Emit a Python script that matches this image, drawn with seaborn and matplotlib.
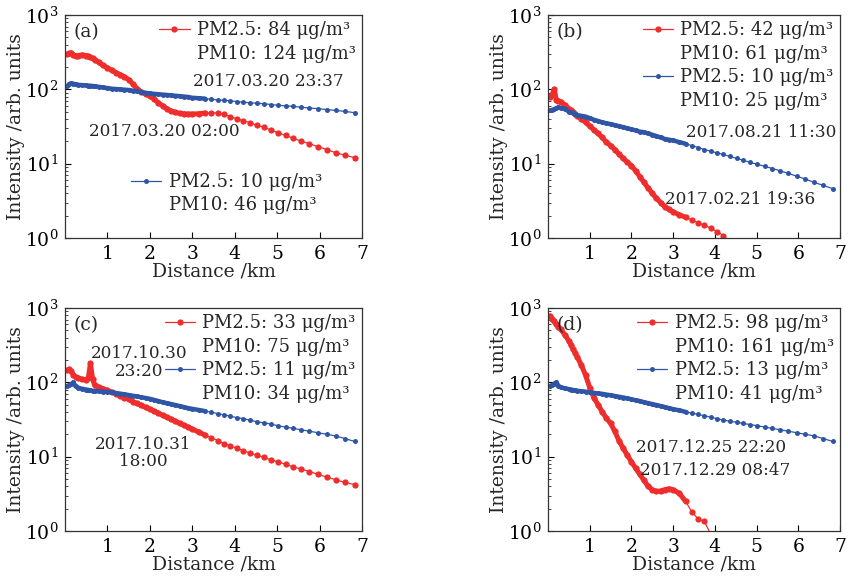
import numpy as np
import pandas as pd
import matplotlib
matplotlib.use("Agg")
import matplotlib.pyplot as plt
import seaborn as sns
from matplotlib.lines import Line2D
from matplotlib.ticker import LogLocator, NullFormatter

sns.set_theme(style="ticks")
plt.rcParams["font.family"] = ["DejaVu Serif"]
plt.rcParams["mathtext.fontset"] = "dejavuserif"

# shared distance grid (km)
dist = [0.05, 0.1, 0.15, 0.2, 0.25, 0.3, 0.4, 0.5, 0.55, 0.6, 0.65, 0.7, 0.8, 0.9, 1.0,
        1.1, 1.2, 1.3, 1.4, 1.5, 1.6, 1.7, 1.8, 1.9, 2.0, 2.1, 2.2, 2.3, 2.4, 2.5,
        2.6, 2.7, 2.8, 2.9, 3.0, 3.15, 3.3, 3.45, 3.6, 3.75, 3.9, 4.05, 4.2, 4.36,
        4.52, 4.68, 4.85, 5.02, 5.2, 5.38, 5.57, 5.76, 5.96, 6.17, 6.38, 6.6, 6.83]

nan = float("nan")

# (a)
a_red = [295, 305, 310, 290, 280, 285, 290, 285, 280, 270, 260, 250, 230, 210, 195,
         180, 168, 158, 148, 135, 118, 102, 92, 86, 81, 74, 66, 60, 55, 51,
         49, 47.5, 47, 46.5, 46.5, 47, 48, 48.5, 48, 46, 43, 40, 38, 35.5,
         33, 31, 28.5, 26, 24, 22, 20, 18.5, 17, 15.5, 14, 13, 12]
a_blue = [110, 118, 120, 119, 117, 115, 114, 113, 112, 112, 111, 110, 108, 106, 104,
          102, 101, 100, 99, 98, 96, 94, 92, 90, 88, 87, 86, 85, 84, 83,
          82, 81, 80, 79, 77, 76, 75, 73.5, 72, 71, 70, 68.5, 67, 66,
          65, 64, 62.5, 61, 60, 59, 57.5, 56, 55, 53.5, 52, 50.5, 48.5]
# (b)
b_red = [80, 85, 100, 72, 70, 68, 62, 55, 52, 50, 47, 44, 40, 36, 32,
         28.5, 25.5, 22.5, 19.5, 17.5, 15.5, 13.5, 11.8, 10.5, 9.4, 8.0, 6.7, 5.6, 4.7, 4.0,
         3.4, 3.0, 2.65, 2.42, 2.25, 2.05, 1.9, 1.75, 1.6, 1.48, 1.36, 1.22, 1.08, nan,
         nan, nan, nan, nan, nan, nan, nan, nan, nan, nan, nan, nan, nan]
b_blue = [52, 53, 54, 56, 57, 56, 55, 50, 49, 48, 46, 45, 44, 43, 41,
          39, 37.5, 36, 35, 34, 33, 32, 31, 30, 29, 28, 27, 26.5, 25.5, 24.5,
          23.5, 22.5, 21.5, 21, 20.5, 19.5, 18.5, 17.5, 16.5, 15.5, 14.7, 14, 13.3, 12.5,
          11.8, 11.1, 10.4, 9.8, 9.2, 8.6, 8, 7.4, 6.8, 6.2, 5.6, 5.1, 4.6]
# (c)
c_red = [145, 150, 140, 125, 118, 115, 110, 108, 115, 180, 110, 92, 86, 82, 78,
         74, 70, 66, 62, 59, 55, 52, 49, 46, 43.5, 41, 38.5, 36, 34, 32,
         30, 28, 26.5, 25, 23.5, 21.5, 19.5, 18, 16.5, 15, 14, 13, 12, 11.2,
         10.5, 9.8, 9.1, 8.5, 7.9, 7.3, 6.8, 6.3, 5.8, 5.3, 4.9, 4.5, 4.2]
c_blue = [88, 92, 95, 100, 88, 85, 82, 80, 79, 78, 77, 77, 76, 75, 74,
          73, 72, 70.5, 69, 67.5, 66, 64.5, 63, 61.5, 60, 58, 56, 54, 52.5, 51,
          49.5, 48, 46.5, 45, 44, 42.5, 41, 39.5, 38, 36.5, 35, 33.5, 32.5, 31,
          29.5, 28.5, 27.5, 26, 25, 24, 23, 22, 21, 20, 19, 17.5, 16]
# (d)
d_red = [780, 720, 660, 600, 560, 520, 440, 360, 320, 280, 250, 220, 170, 125, 85,
         62, 50, 40, 33, 28, 22, 16.5, 13, 10.5, 8.5, 7, 5.8, 4.8, 4.0, 3.6,
         3.4, 3.45, 3.6, 3.7, 3.6, 3.2, 2.5, 1.8, 1.45, 1.35, 0.9, 0.6, nan, nan,
         nan, nan, nan, nan, nan, nan, nan, nan, nan, nan, nan, nan, nan]
d_blue = [88, 92, 96, 100, 90, 86, 83, 81, 80, 79, 78, 77, 76, 75, 73,
          72, 71, 70, 68.5, 67, 65.5, 64, 62.5, 61, 59, 57.5, 56, 54, 52.5, 51,
          49.5, 48, 46.5, 45, 43.5, 42, 40, 38.5, 37, 35.5, 34, 32.5, 31, 30,
          29, 28, 27, 26, 25, 24, 23, 22, 21, 20, 19, 17.5, 16]

panel_labels = ["(a)", "(b)", "(c)", "(d)"]
red_pm25 = ["PM2.5: 84 μg/m³", "PM2.5: 42 μg/m³", "PM2.5: 33 μg/m³", "PM2.5: 98 μg/m³"]
red_pm10 = ["PM10: 124 μg/m³", "PM10: 61 μg/m³", "PM10: 75 μg/m³", "PM10: 161 μg/m³"]
blue_pm25 = ["PM2.5: 10 μg/m³", "PM2.5: 10 μg/m³", "PM2.5: 11 μg/m³", "PM2.5: 13 μg/m³"]
blue_pm10 = ["PM10: 46 μg/m³", "PM10: 25 μg/m³", "PM10: 34 μg/m³", "PM10: 41 μg/m³"]
reds = [a_red, b_red, c_red, d_red]
blues = [a_blue, b_blue, c_blue, d_blue]

RED = "#ef2d2d"
BLUE = "#2f56a6"
FS = 13
TS = 12.2
DENSE_CUT = 3.3

fig = plt.figure(figsize=(8.48, 5.82), dpi=100)
W, H = 848, 582
boxes = [(65, 15, 362, 238), (548, 15, 840, 238), (65, 308, 362, 531), (548, 308, 840, 531)]
axes = []
for (l, t, r, b) in boxes:
    axes.append(fig.add_axes([l / W, 1 - b / H, (r - l) / W, (b - t) / H]))


def draw(ax, vals, color, ms, thick):
    df = pd.DataFrame({"d": dist, "v": vals}).dropna()
    dense = df[df["d"] <= DENSE_CUT]
    sns.lineplot(data=dense, x="d", y="v", ax=ax, color=color, linewidth=thick,
                 sort=False, estimator=None, solid_capstyle="round", solid_joinstyle="round")
    sns.lineplot(data=df, x="d", y="v", ax=ax, color=color, marker="o", markersize=ms,
                 markeredgewidth=0, linewidth=0.9, sort=False, estimator=None)


for i, ax in enumerate(axes):
    draw(ax, reds[i], RED, 4.5, 3.6)
    draw(ax, blues[i], BLUE, 3.6, 3.2)
    ax.set_yscale("log")
    ax.set_xlim(0, 7)
    ax.set_ylim(1, 1000)
    ax.set_xticks([1, 2, 3, 4, 5, 6, 7])
    ax.yaxis.set_minor_locator(LogLocator(base=10, subs=np.arange(2, 10), numticks=20))
    ax.yaxis.set_minor_formatter(NullFormatter())
    ax.tick_params(axis="both", which="major", direction="in", length=4, width=0.8,
                   labelsize=FS + 0.5, colors="black", top=False, right=False, pad=5)
    ax.tick_params(axis="y", which="minor", direction="in", length=2.5, width=0.6,
                   left=True, right=False)
    for s in ax.spines.values():
        s.set_linewidth(0.9)
        s.set_color("#333333")
    ax.set_xlabel("Distance /km", fontsize=FS + 0.5, labelpad=0)
    ax.set_ylabel("Intensity /arb. units", fontsize=FS + 0.5, labelpad=0)
    ax.text(0.03, 0.965, panel_labels[i], transform=ax.transAxes, fontsize=FS + 0.5,
            va="top", ha="left")

    hr = Line2D([], [], color=RED, marker="o", markersize=4.5, markeredgewidth=0, linewidth=0.9)
    hb = Line2D([], [], color=BLUE, marker="o", markersize=3.6, markeredgewidth=0, linewidth=0.9)
    blank = Line2D([], [], linestyle="none")
    legkw = dict(frameon=False, fontsize=FS, handlelength=1.7, handletextpad=0.4,
                 labelspacing=0.3, borderaxespad=0.15, borderpad=0.2)
    if i == 0:
        l1 = ax.legend([hr, blank], [red_pm25[0], red_pm10[0]], loc="upper right",
                       bbox_to_anchor=(1.0, 1.0), **legkw)
        ax.add_artist(l1)
        ax.legend([hb, blank], [blue_pm25[0], blue_pm10[0]], loc="upper left",
                  bbox_to_anchor=(0.2, 0.32), **legkw)
    else:
        ax.legend([hr, blank, hb, blank],
                  [red_pm25[i], red_pm10[i], blue_pm25[i], blue_pm10[i]],
                  loc="upper right", bbox_to_anchor=(1.0, 1.0), **legkw)

axes[0].text(4.8, 126, "2017.03.20 23:37", fontsize=TS, ha="center", va="center")
axes[0].text(2.35, 27.5, "2017.03.20 02:00", fontsize=TS, ha="center", va="center")
axes[1].text(5.1, 26, "2017.08.21 11:30", fontsize=TS, ha="center", va="center")
axes[1].text(4.6, 3.25, "2017.02.21 19:36", fontsize=TS, ha="center", va="center")
axes[2].text(1.75, 186, "2017.10.30\n23:20", fontsize=TS, ha="center", va="center",
             linespacing=1.05)
axes[2].text(1.85, 11.2, "2017.10.31\n18:00", fontsize=TS, ha="center", va="center",
             linespacing=1.05)
axes[3].text(3.9, 13.2, "2017.12.25 22:20", fontsize=TS, ha="center", va="center")
axes[3].text(4.0, 6.5, "2017.12.29 08:47", fontsize=TS, ha="center", va="center")

fig.savefig("out.png", dpi=100)
